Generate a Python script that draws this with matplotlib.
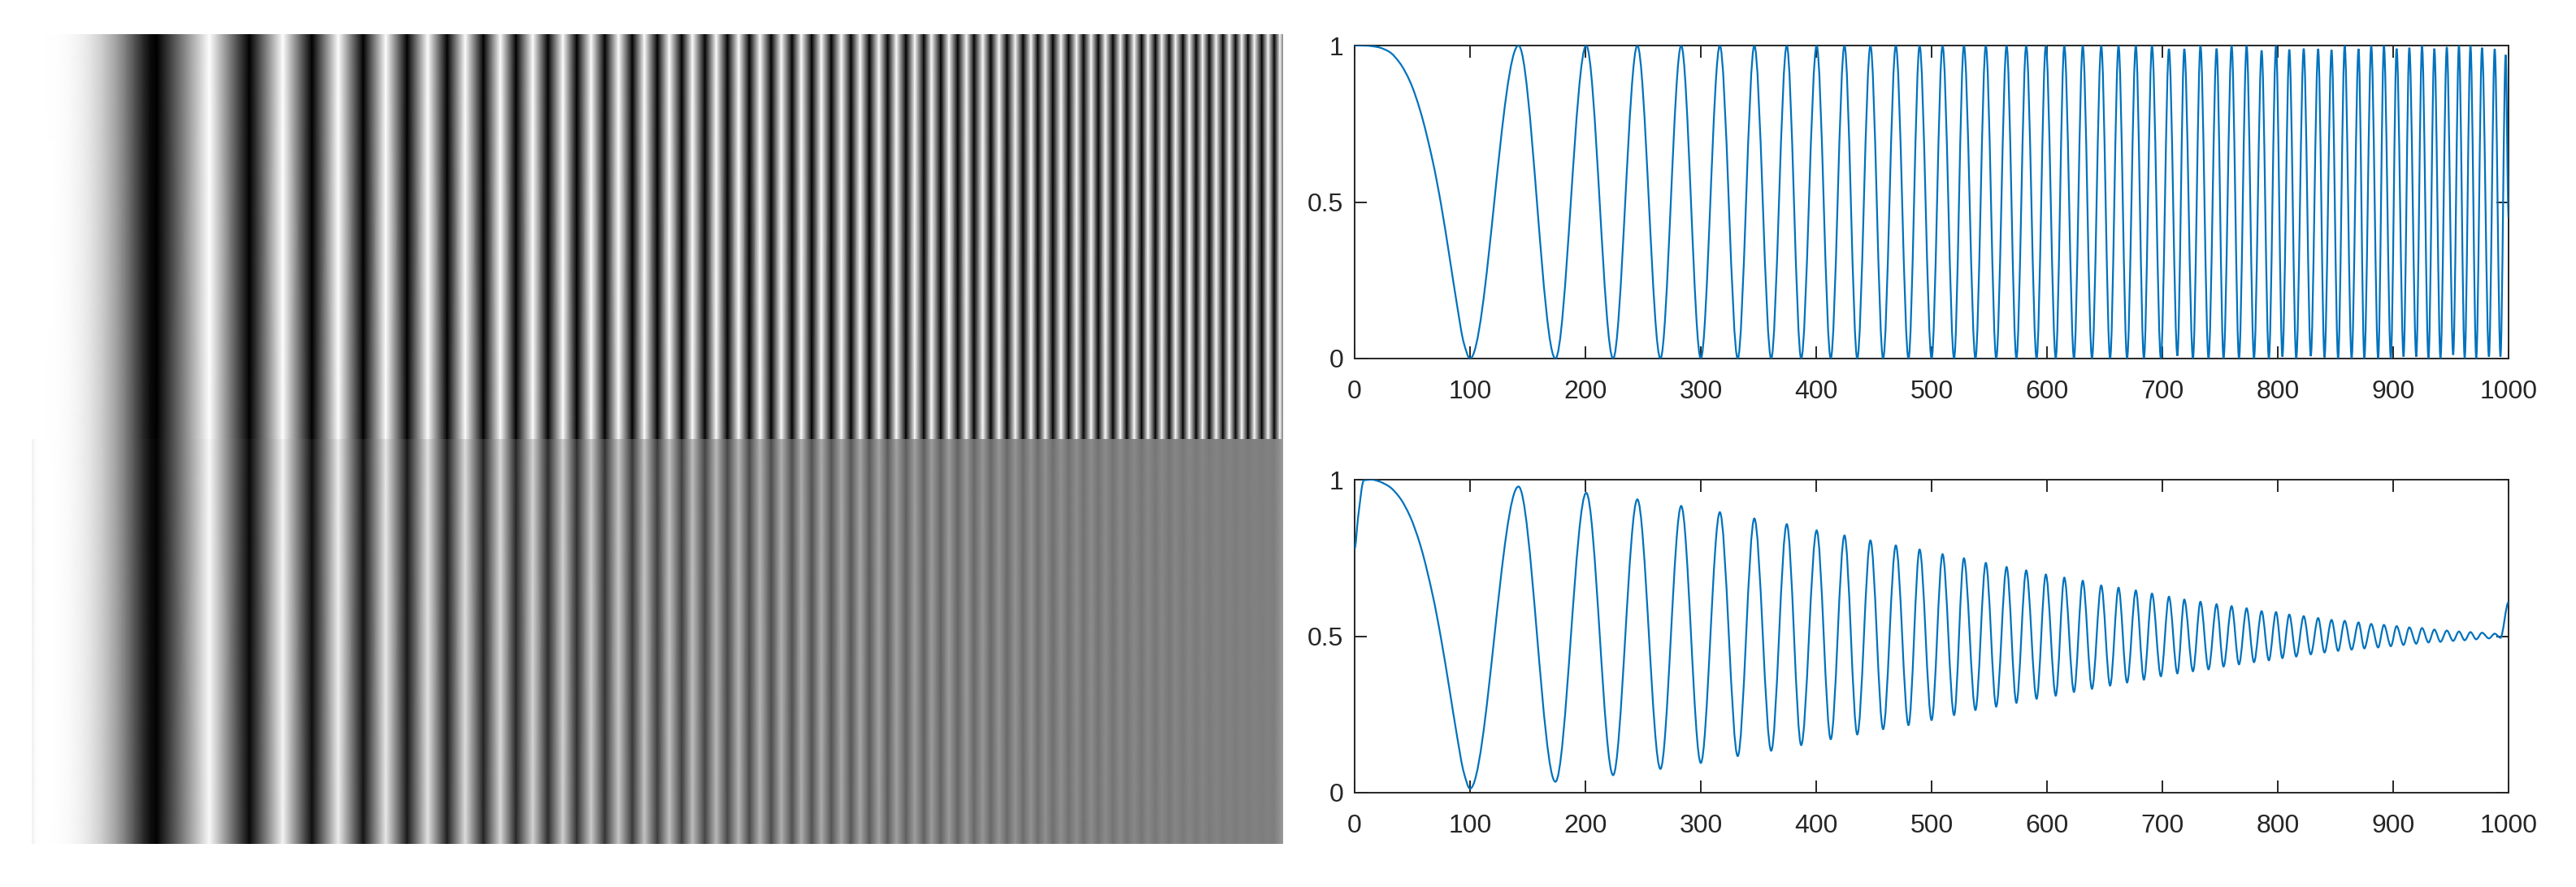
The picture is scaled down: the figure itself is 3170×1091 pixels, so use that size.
import numpy as np
import matplotlib
matplotlib.use("Agg")
import matplotlib.pyplot as plt
from matplotlib.path import Path
from matplotlib.patches import PathPatch

# values, one sample axis 0..1000
head_x = [0, 10, 20, 30, 39, 48, 57, 68, 75, 82, 89, 94.6]
top_head = [1, 0.9995, 0.995, 0.98, 0.945, 0.885, 0.79, 0.625, 0.49, 0.33, 0.165, 0.05]

bot_head_x = [0, 3, 8, 15, 20, 30, 39, 48, 57, 68, 75, 82, 89, 94.6]
bot_head = [0.78, 0.88, 0.998, 1, 0.996, 0.978, 0.943, 0.883, 0.79, 0.625, 0.49, 0.335, 0.175, 0.065]
# first two columns of the lower image are paler than the curve
bot_img_start = [0.93, 0.99]

trough_x = [100, 174, 224, 265, 300, 332, 361, 387, 412.6, 435.6,
            458, 480, 500, 519.5, 538, 556, 573.5, 591, 607.6, 623.4,
            639, 654.7, 669.4, 684, 698.7, 713, 726.5, 740, 753, 766.4,
            779.4, 792.3, 804, 816, 828.6, 840.5, 852.3, 864, 875, 887,
            898, 909, 920, 930.6, 941, 952, 962, 972, 983, 993]
peak_x = [142, 200.7, 245, 283, 316.5, 346.4, 374.5, 400.4, 424.5, 447,
          469, 489.6, 509.5, 528, 547, 565, 582, 599, 615, 631,
          647, 662, 677, 691, 705.7, 719, 733, 747, 760, 773,
          786, 798.5, 810, 822.5, 835, 846.6, 858, 870, 881, 892,
          903, 914, 925, 935.7, 946.5, 957, 967, 977, 988]

top_trough = [0, 0, 0, 0, 0, 0, 0, 0, 0, 0,
              0, 0, 0, 0, 0, 0, 0, 0, 0, 0,
              0, 0, 0, 0, 0, 0.009, 0, 0, 0, 0,
              0, 0, 0.006, 0, 0.008, 0.004, 0, 0, 0, 0,
              0, 0.006, 0.006, 0, 0, 0.012, 0, 0, 0.006, 0.006]
top_peak = [1, 1, 1, 1, 1, 1, 1, 1, 1, 1,
            1, 1, 1, 1, 1, 1, 1, 1, 1, 1,
            1, 1, 1, 1, 0.989, 0.989, 1, 0.99, 1, 1,
            0.984, 1, 0.987, 0.99, 0.989, 0.986, 1, 0.989, 1, 1,
            0.99, 0.993, 1, 0.99, 0.995, 1, 1, 0.993, 0.989]

bot_trough = [0.013, 0.035, 0.056, 0.076, 0.095, 0.117, 0.134, 0.152, 0.171, 0.186,
              0.203, 0.216, 0.232, 0.248, 0.264, 0.275, 0.287, 0.300, 0.310, 0.322,
              0.332, 0.342, 0.352, 0.361, 0.372, 0.381, 0.388, 0.394, 0.403, 0.410,
              0.417, 0.423, 0.430, 0.435, 0.442, 0.448, 0.453, 0.457, 0.461, 0.464,
              0.468, 0.472, 0.476, 0.480, 0.482, 0.485, 0.487, 0.490, 0.493, 0.495]
bot_peak = [0.978, 0.958, 0.937, 0.916, 0.896, 0.876, 0.858, 0.838, 0.822, 0.806,
            0.79, 0.777, 0.762, 0.749, 0.734, 0.721, 0.71, 0.697, 0.687, 0.677,
            0.662, 0.655, 0.646, 0.636, 0.626, 0.617, 0.61, 0.602, 0.596, 0.589,
            0.58, 0.577, 0.569, 0.564, 0.558, 0.552, 0.549, 0.544, 0.539, 0.536,
            0.532, 0.528, 0.526, 0.521, 0.518, 0.515, 0.513, 0.511, 0.508]

top_tail_x = [997.5, 1000]
top_tail = [0.97, 0.45]
bot_tail_x = [1000]
bot_tail = [0.609]

x_ticks = [0, 100, 200, 300, 400, 500, 600, 700, 800, 900, 1000]
y_ticks = [0, 0.5, 1]
y_labels = ["0", "0.5", "1"]

W, H = 3170, 1091
LINE = "#0072BD"
DARK = "#262626"
plt.rcParams["font.family"] = "Liberation Sans"


def merge(hx, hy, py, ty, tx, tv):
    x = np.concatenate([hx, trough_x, peak_x, tx])
    y = np.concatenate([hy, ty, py, tv])
    order = np.argsort(x)
    return x[order], y[order]


def smooth_path(x, y):
    # cubic bezier through the read points, flat at every extremum
    h = np.diff(x)
    d = np.diff(y) / h
    m = np.zeros(len(x))
    for i in range(1, len(x) - 1):
        if d[i - 1] * d[i] > 0:
            m[i] = 2 * d[i - 1] * d[i] / (d[i - 1] + d[i])
    verts = [(x[0], y[0])]
    codes = [Path.MOVETO]
    for i in range(len(h)):
        verts.append((x[i] + h[i] / 3, y[i] + m[i] * h[i] / 3))
        verts.append((x[i + 1] - h[i] / 3, y[i + 1] - m[i + 1] * h[i] / 3))
        verts.append((x[i + 1], y[i + 1]))
        codes += [Path.CURVE4] * 3
    return Path(verts, codes)


def axes_px(left, top, right, bottom):
    return fig.add_axes([left / W, 1 - bottom / H, (right - left) / W, (bottom - top) / H])


def draw_image(ax, x, y):
    ax.pcolormesh(x, [0, 1], np.vstack([y, y]), cmap="gray", vmin=0, vmax=1, shading="gouraud")
    ax.set_xlim(0, 1000)
    ax.set_ylim(0, 1)
    ax.axis("off")


def draw_plot(ax, x, y):
    ax.add_patch(PathPatch(smooth_path(x, y), fill=False, edgecolor=LINE, lw=1.6, zorder=3))
    ax.set_xlim(0, 1000)
    ax.set_ylim(0, 1)
    ax.set_xticks(x_ticks)
    ax.set_yticks(y_ticks)
    ax.set_yticklabels(y_labels)
    ax.tick_params(axis="x", direction="in", top=True, length=10.8, width=1.4, color=DARK,
                   labelcolor=DARK, labelsize=23, pad=19)
    ax.tick_params(axis="y", direction="in", right=True, length=10.8, width=1.4, color=DARK,
                   labelcolor=DARK, labelsize=23, pad=10)
    for s in ax.spines.values():
        s.set_linewidth(1.4)
        s.set_color(DARK)


top_x, top_y = merge(head_x, top_head, top_peak, top_trough, top_tail_x, top_tail)
bot_x, bot_y = merge(bot_head_x, bot_head, bot_peak, bot_trough, bot_tail_x, bot_tail)
bot_img = bot_y.copy()
bot_img[:2] = bot_img_start

fig = plt.figure(figsize=(W / 100, H / 100), dpi=100)

draw_image(axes_px(39, 42, 1579, 540), top_x, top_y)
draw_image(axes_px(39, 540, 1579, 1038), bot_x, bot_img)
draw_plot(axes_px(1667, 56, 3087, 441), top_x, top_y)
draw_plot(axes_px(1667, 590, 3087, 975), bot_x, bot_y)

fig.savefig("out.png", dpi=100)
